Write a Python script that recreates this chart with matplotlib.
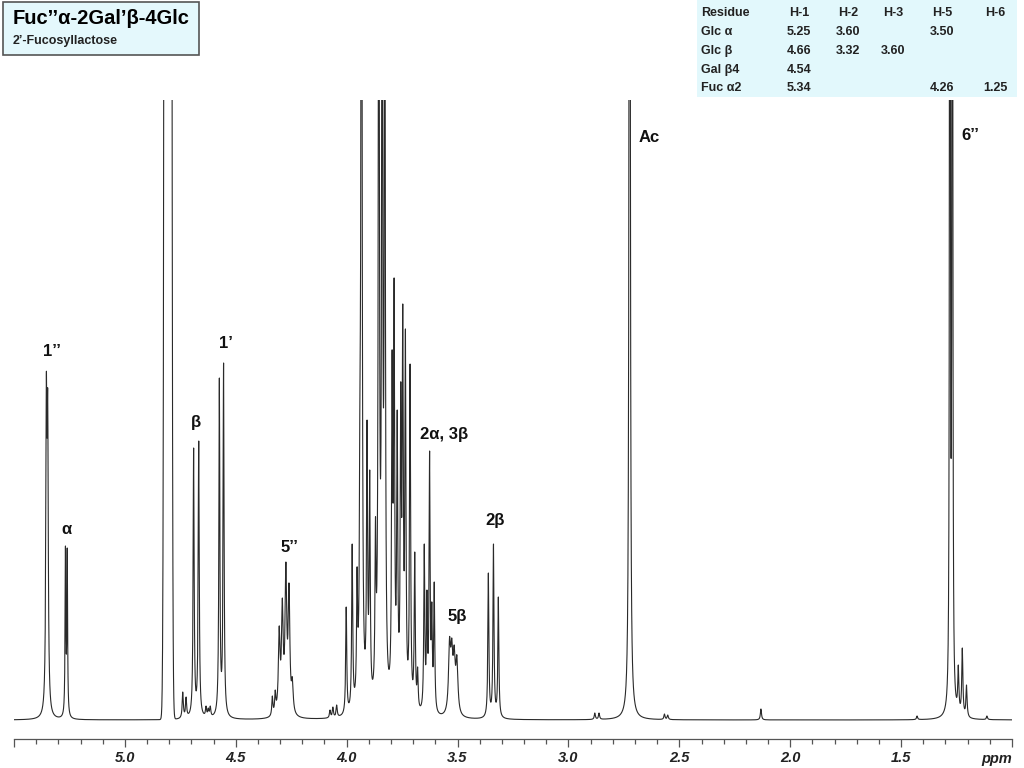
import numpy as np
import matplotlib
matplotlib.use("Agg")
import matplotlib.pyplot as plt
from matplotlib.patches import Rectangle
from matplotlib.ticker import MultipleLocator, FixedLocator, FixedFormatter

plt.rcParams["font.family"] = ["Liberation Sans", "DejaVu Sans"]

# ─── Peak list (ppm, apex height above baseline) ───────────────────────────────
fuc_h1_ppm = [5.354, 5.348]
fuc_h1_int = [347, 330]
glca_h1_ppm = [5.268, 5.260]
glca_h1_int = [174, 172]
glcb_h1_ppm = [4.690, 4.667]
glcb_h1_int = [272, 279]
gal_h1_ppm = [4.574, 4.555]
gal_h1_int = [342, 357]
fuc_h5_ppm = [4.304, 4.290, 4.274, 4.260, 4.245]
fuc_h5_int = [94, 122, 158, 137, 43]
ring_ppm = [4.002, 3.975, 3.953, 3.940, 3.933, 3.908, 3.896, 3.870,
            3.855, 3.840, 3.828, 3.795, 3.786, 3.772, 3.756, 3.747,
            3.735, 3.714, 3.693, 3.680]
ring_int = [113, 176, 153, 348, 1200, 300, 250, 203,
            1000, 900, 850, 370, 442, 310, 338, 416,
            391, 356, 168, 53]
h2a_ppm = [3.650, 3.638, 3.626, 3.616, 3.605]
h2a_int = [176, 130, 269, 118, 138]
h5b_ppm = [3.536, 3.526, 3.515, 3.503]
h5b_int = [83, 82, 75, 65]
h2b_ppm = [3.361, 3.338, 3.316]
h2b_int = [147, 176, 123]
ac_ppm = [2.724]
ac_int = [2000]
fuc_h6_ppm = [1.280, 1.269]
fuc_h6_int = [2500, 2500]
minor_ppm = [4.739, 4.724, 4.634, 4.624, 4.615, 4.335, 4.322, 4.075, 4.062,
             4.045, 2.881, 2.862, 2.567, 2.552, 2.132, 1.428, 1.242, 1.224,
             1.205, 1.113]
minor_int = [28, 23, 14, 12, 14, 24, 30, 10, 13,
             15, 7, 7, 6, 5, 11, 4, 55, 72,
             35, 4]
water_ppm = 4.806
water_int = 20000

# linewidths (half width, ppm) per signal group
groups = [
    (fuc_h1_ppm, fuc_h1_int, 0.0030),
    (glca_h1_ppm, glca_h1_int, 0.0020),
    (glcb_h1_ppm, glcb_h1_int, 0.0027),
    (gal_h1_ppm, gal_h1_int, 0.0026),
    (fuc_h5_ppm, fuc_h5_int, 0.0045),
    (ring_ppm, ring_int, 0.0028),
    (h2a_ppm, h2a_int, 0.0027),
    (h5b_ppm, h5b_int, 0.0055),
    (h2b_ppm, h2b_int, 0.0027),
    (ac_ppm, ac_int, 0.0022),
    (fuc_h6_ppm, fuc_h6_int, 0.0013),
    (minor_ppm, minor_int, 0.0030),
]

centers = np.concatenate([np.array(g[0], float) for g in groups])
targets = np.concatenate([np.array(g[1], float) for g in groups])
widths = np.concatenate([np.full(len(g[0]), g[2]) for g in groups])


def lorentz(x, c, w):
    return 1.0 / (1.0 + ((x - c) / w) ** 2)


def water(x):
    return water_int * np.exp(-0.5 * ((x - water_ppm) / 0.0072) ** 2)


# solve amplitudes so that apexes reach the read heights
M = lorentz(centers[:, None], centers[None, :], widths[None, :])
amps = np.linalg.solve(M, targets - water(centers))
amps = np.clip(amps, 0.5, None)

ppm = np.linspace(1.0, 5.5, 60001)
spec = water(ppm)
for c, a, w in zip(centers, amps, widths):
    spec += a * lorentz(ppm, c, w)

# ─── Figure ───────────────────────────────────────────────────────────────────
fig = plt.figure(figsize=(10.24, 7.68), dpi=100)
ax = fig.add_axes([14 / 1024, 1 - 739 / 768, 998 / 1024, 639 / 768])
ax.plot(ppm, spec, color="#2a2a2a", linewidth=0.8)
ax.set_xlim(5.5, 1.0)
ax.set_ylim(-19, 620)

for s in ["left", "right", "top"]:
    ax.spines[s].set_visible(False)
ax.spines["bottom"].set_color("#555555")
ax.spines["bottom"].set_linewidth(0.9)
ax.set_yticks([])

major = [5.5, 5.0, 4.5, 4.0, 3.5, 3.0, 2.5, 2.0, 1.5, 1.0]
major_lbl = ["", "5.0", "4.5", "4.0", "3.5", "3.0", "2.5", "2.0", "1.5", "ppm"]
ax.xaxis.set_major_locator(FixedLocator(major))
ax.xaxis.set_major_formatter(FixedFormatter(major_lbl))
ax.xaxis.set_minor_locator(MultipleLocator(0.1))
ax.tick_params(axis="x", which="major", length=6, width=0.9, color="#555555",
               pad=3, labelsize=10.5)
ax.tick_params(axis="x", which="minor", length=3.5, width=0.9, color="#555555")
for t in ax.get_xticklabels():
    t.set_fontweight("bold")
    t.set_fontstyle("italic")
    t.set_color("#222222")
ax.get_xticklabels()[-1].set_horizontalalignment("right")

# peak labels
peak_labels = [
    ("1’’", 5.330, 368),
    ("α", 5.262, 190),
    ("β", 4.678, 297),
    ("1’", 4.545, 376),
    ("5’’", 4.258, 173),
    ("2α, 3β", 3.563, 286),
    ("5β", 3.500, 103),
    ("2β", 3.329, 199),
    ("Ac", 2.637, 582),
    ("6’’", 1.186, 584),
]
for txt, x, y in peak_labels:
    ax.text(x, y, txt, ha="center", va="center", fontsize=12,
            fontweight="bold", color="#111111")

# title box
fig.add_artist(Rectangle((2.5 / 1024, 1 - 55 / 768), 196.5 / 1024, 53 / 768,
                         transform=fig.transFigure, facecolor="#e4f8fc",
                         edgecolor="#555555", linewidth=1.2))
fig.text(13 / 1024, 1 - 19 / 768, "Fuc’’α-2Gal’β-4Glc", fontsize=14.5,
         fontweight="bold", va="center", ha="left")
fig.text(13 / 1024, 1 - 41 / 768, "2’-Fucosyllactose", fontsize=9,
         fontweight="bold", va="center", ha="left", color="#222222")

# shift table
fig.add_artist(Rectangle((697 / 1024, 1 - 97 / 768), 320 / 1024, 97 / 768,
                         transform=fig.transFigure, facecolor="#e2f8fc",
                         edgecolor="none"))
tbl_header = ["Residue", "H-1", "H-2", "H-3", "H-5", "H-6"]
tbl_rows = [
    ["Glc α", "5.25", "3.60", "", "3.50", ""],
    ["Glc β", "4.66", "3.32", "3.60", "", ""],
    ["Gal β4", "4.54", "", "", "", ""],
    ["Fuc α2", "5.34", "", "", "4.26", "1.25"],
]
col_x = [701, 799, 848, 893, 942, 995]
row_y = [13, 32, 51, 70, 88]
for r, row in enumerate([tbl_header] + tbl_rows):
    for c, cell in enumerate(row):
        if not cell:
            continue
        fig.text(col_x[c] / 1024, 1 - row_y[r] / 768, cell, fontsize=9,
                 fontweight="bold", va="center",
                 ha="left" if c == 0 else "center", color="#222222")

fig.savefig("out.png", dpi=100)
